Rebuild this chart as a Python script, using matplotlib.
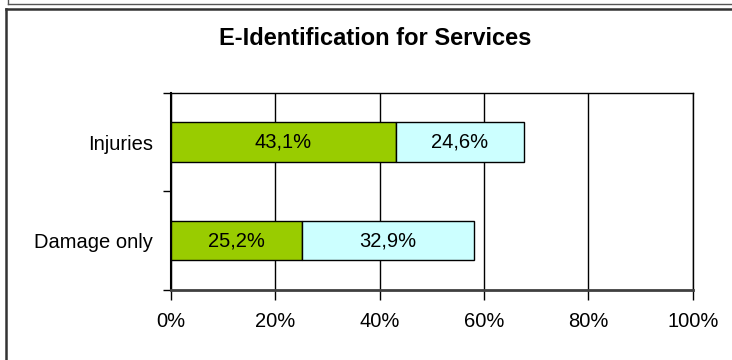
import numpy as np
import matplotlib.pyplot as plt
from matplotlib.lines import Line2D

plt.rcParams['font.family'] = ['Liberation Sans', 'DejaVu Sans']

# Data
categories = ["Damage only", "Injuries"]
series_a = [25.2, 43.1]
series_b = [32.9, 24.6]
labels_a = ["25,2%", "43,1%"]
labels_b = ["32,9%", "24,6%"]
xticks = [0, 20, 40, 60, 80, 100]
xticklabels = ["0%", "20%", "40%", "60%", "80%", "100%"]

W, H = 732, 360
fig = plt.figure(figsize=(W / 100, H / 100), dpi=100)
ax = fig.add_axes([170.7 / W, 1 - 290 / H, (692.7 - 170.7) / W, (290 - 92.7) / H])

y = np.arange(len(categories))
h = 0.4
ax.barh(y, series_a, height=h, color="#99CC00", edgecolor="black", linewidth=1, zorder=3)
ax.barh(y, series_b, left=series_a, height=h, color="#CCFFFF", edgecolor="black",
        linewidth=1, zorder=3)

fs = 14.5
for i in range(len(categories)):
    ax.text(series_a[i] / 2, y[i], labels_a[i], ha="center", va="center",
            fontsize=fs, zorder=4)
    ax.text(series_a[i] + series_b[i] / 2, y[i], labels_b[i], ha="center", va="center",
            fontsize=fs, zorder=4)

ax.set_xlim(0, 100)
ax.set_ylim(-0.5, len(categories) - 0.5)

ax.set_xticks(xticks)
ax.set_xticklabels(xticklabels, fontsize=fs)
ax.tick_params(axis="x", direction="out", length=7, width=1, pad=9, color="black")
ax.xaxis.grid(True, color="black", linewidth=1, zorder=0)

# category labels on minor ticks, boundary ticks as major
ax.set_yticks([-0.5, 0.5, 1.5])
ax.set_yticklabels([])
ax.tick_params(axis="y", which="major", direction="out", length=6, width=1, color="black")
ax.set_yticks(y, minor=True)
ax.set_yticklabels(categories, minor=True, fontsize=fs)
ax.tick_params(axis="y", which="minor", length=0, pad=12.7)

for s in ["top", "right", "left"]:
    ax.spines[s].set_color("black")
    ax.spines[s].set_linewidth(1)
ax.spines["left"].set_linewidth(1.5)
ax.spines["bottom"].set_color("#404040")
ax.spines["bottom"].set_linewidth(2)

fig.text(375 / W, 1 - 38.5 / H, "E-Identification for Services", ha="center", va="center",
         fontsize=17, fontweight="bold")

# frame lines around the chart
def px_line(xs, ys, **kw):
    fig.add_artist(Line2D([v / W for v in xs], [1 - v / H for v in ys],
                          transform=fig.transFigure, **kw))

px_line([8, W], [3.5, 3.5], color="#555555", linewidth=1)
px_line([8, 8], [0, 3.5], color="#555555", linewidth=1)
px_line([6, W], [8.5, 8.5], color="#333333", linewidth=1.8)
px_line([6, 6], [8.5, H], color="#333333", linewidth=1.8)

fig.savefig("out.png", dpi=100)
